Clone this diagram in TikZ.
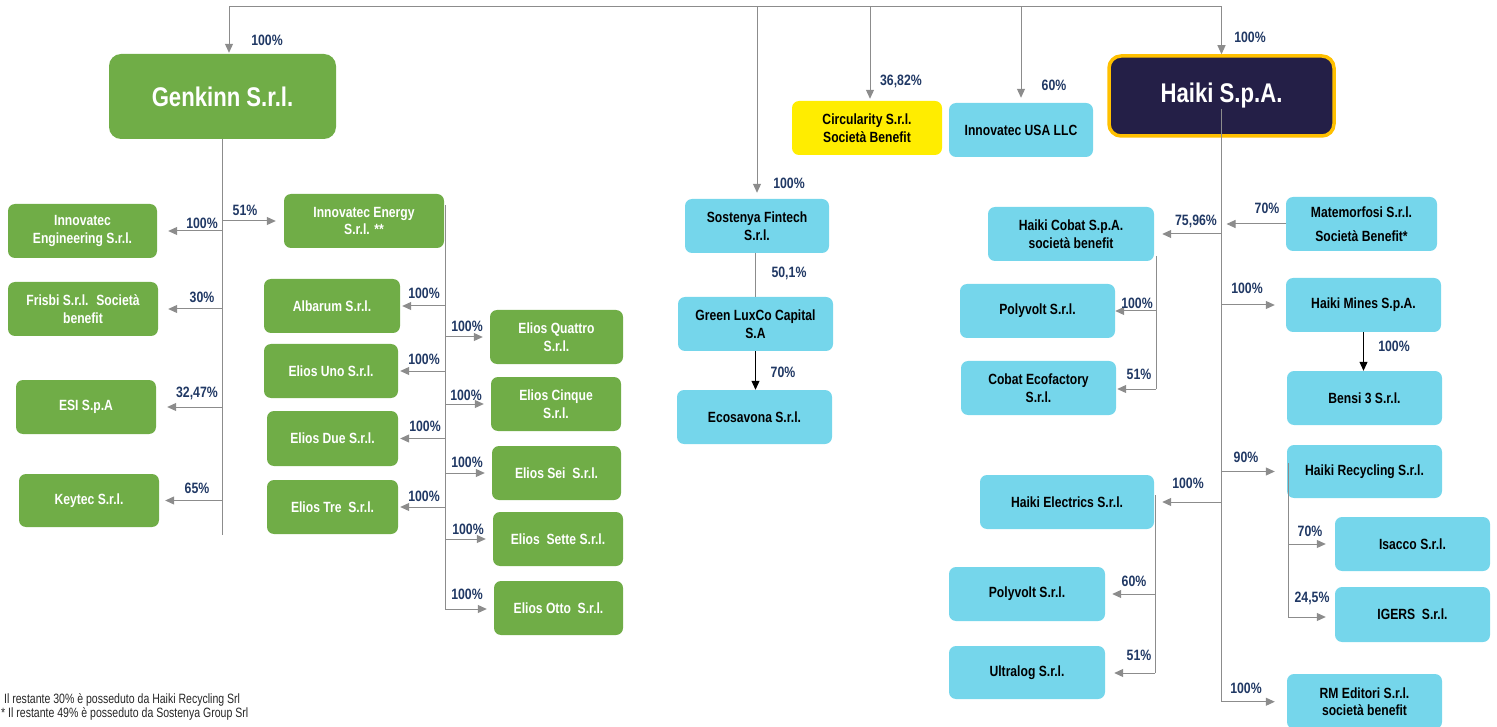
\documentclass[tikz,border=0pt]{standalone}
\usepackage{fontspec}
\setmainfont{Liberation Sans}[FakeStretch=0.82]
\newfontfamily\notefont{Liberation Sans}[FakeStretch=0.78]
\usetikzlibrary{arrows.meta}
\definecolor{gr}{HTML}{70AD47}
\definecolor{lb}{HTML}{75D6EB}
\definecolor{ye}{HTML}{FFED00}
\definecolor{hk}{HTML}{241F47}
\definecolor{gold}{HTML}{FFC000}
\definecolor{navy}{HTML}{203864}
\definecolor{cg}{HTML}{8C8C8C}
\newcommand\orgbox[7]{\node[#6, minimum width={(#4-#2)*1pt}, minimum height={(#5-#3)*1pt}] (#1) at ({(#2+#4)/2},{(#3+#5)/2}) {#7};}
\begin{document}
\begin{tikzpicture}[x=1pt,y=-1pt,
  bx/.style={rounded corners=7pt, inner sep=0pt, align=center, font=\fontsize{14.8}{17.5}\selectfont\bfseries},
  gbx/.style={bx, fill=gr, text=white},
  bbx/.style={bx, fill=lb, text=black},
  ybx/.style={bx, fill=ye, text=black},
  bigg/.style={gbx, rounded corners=12pt, font=\fontsize{27}{30}\selectfont\bfseries},
  bigh/.style={bx, fill=hk, draw=gold, line width=3.5pt, text=white, rounded corners=12pt, font=\fontsize{27}{30}\selectfont\bfseries},
  pct/.style={text=navy, inner sep=0pt, font=\fontsize{15}{17}\selectfont\bfseries},
  cline/.style={draw=cg, line width=1pt},
  carr/.style={cline, -{Triangle[length=9pt,width=8pt]}},
  barr/.style={draw=black, line width=1pt, -{Triangle[length=9pt,width=8pt]}},
  note/.style={anchor=west, inner sep=0pt, text=black!85, font=\notefont\fontsize{13.5}{15}\selectfont}
]
\useasboundingbox (0,0) rectangle (1497,727);

% ---------- boxes ----------
\orgbox{genkinn}{109}{54}{336}{139}{bigg}{Genkinn S.r.l.}
\orgbox{ieng}{8}{204}{157}{258}{gbx}{Innovatec\\Engineering S.r.l.}
\orgbox{frisbi}{8}{282}{158}{336}{gbx}{Frisbi S.r.l.~ Società\\benefit}
\orgbox{esi}{16}{380}{156}{434}{gbx}{ESI S.p.A}
\orgbox{keytec}{19}{474}{159}{527}{gbx}{Keytec S.r.l.}
\orgbox{ienergy}{284}{194}{444}{248}{gbx}{Innovatec Energy\\S.r.l. **}
\orgbox{albarum}{264}{279}{400}{333}{gbx}{Albarum S.r.l.}
\orgbox{euno}{264}{344}{398}{398}{gbx}{Elios Uno S.r.l.}
\orgbox{edue}{267}{411}{398}{466}{gbx}{Elios Due S.r.l.}
\orgbox{etre}{267}{480}{398}{534}{gbx}{Elios Tre~ S.r.l.}
\orgbox{equattro}{490}{310}{623}{364}{gbx}{Elios Quattro\\S.r.l.}
\orgbox{ecinque}{491}{377}{621}{431}{gbx}{Elios Cinque\\S.r.l.}
\orgbox{esei}{492}{446}{621}{500}{gbx}{Elios Sei~ S.r.l.}
\orgbox{esette}{493}{512}{623}{566}{gbx}{Elios~ Sette S.r.l.}
\orgbox{eotto}{494}{581}{623}{635}{gbx}{Elios Otto~ S.r.l.}

\orgbox{sostenya}{685}{199}{829}{253}{bbx}{Sostenya Fintech\\S.r.l.}
\orgbox{luxco}{678}{297}{833}{351}{bbx}{Green LuxCo Capital\\S.A}
\orgbox{ecosavona}{677}{390}{832}{444}{bbx}{Ecosavona S.r.l.}
\orgbox{circ}{792}{101}{942}{155}{ybx}{Circularity S.r.l.\\Società Benefit}
\orgbox{iusa}{949}{103}{1093}{157}{bbx}{Innovatec USA LLC}

\orgbox{haiki}{1109}{56}{1334}{136}{bigh}{Haiki S.p.A.}
\orgbox{hcobat}{988}{207}{1154}{261}{bbx}{Haiki Cobat S.p.A.\\società benefit}
\orgbox{mate}{1286}{197}{1437}{251}{bbx}{Matemorfosi S.r.l.\\[6pt]Società Benefit*}
\orgbox{poly1}{960}{284}{1115}{338}{bbx}{Polyvolt S.r.l.}
\orgbox{cobateco}{961}{361}{1116}{415}{bbx}{Cobat Ecofactory\\S.r.l.}
\orgbox{hmines}{1286}{278}{1441}{332}{bbx}{Haiki Mines S.p.A.}
\orgbox{bensi}{1287}{371}{1442}{425}{bbx}{Bensi 3 S.r.l.}
\orgbox{hrecyc}{1287}{445}{1442}{498}{bbx}{Haiki Recycling S.r.l.}
\orgbox{isacco}{1335}{517}{1490}{571}{bbx}{Isacco S.r.l.}
\orgbox{igers}{1335}{587}{1490}{642}{bbx}{IGERS~ S.r.l.}
\orgbox{helec}{980}{475}{1154}{529}{bbx}{Haiki Electrics S.r.l.}
\orgbox{poly2}{949}{567}{1105}{621}{bbx}{Polyvolt S.r.l.}
\orgbox{ultralog}{949}{646}{1105}{699}{bbx}{Ultralog S.r.l.}
\orgbox{rmedit}{1287}{674}{1442}{729}{bbx}{RM Editori S.r.l.\\società benefit}

% ---------- coordinates ----------
\coordinate (tl) at (229,7);
\coordinate (tc) at (870,7);
\coordinate (tr) at (haiki.north |- tl);
\path (genkinn.south) ++(0,396) coordinate (gb);
\coordinate (et1) at (445,205);
\coordinate (et2) at (445,609);
\path (haiki.south) ++(0,-29) coordinate (ht1);
\path (haiki.south) ++(0,564) coordinate (ht2);
\coordinate (ct1) at (1156,256);
\coordinate (ct2) at (1156,389);
\coordinate (el1) at (1155,495);
\coordinate (el2) at (1155,673);
\coordinate (rt1) at (1288,463);
\coordinate (rt2) at (1288,617);

% ---------- connectors ----------
\draw[cline] (tl) -- (tr);
\draw[carr, shorten >=1pt] (tl) -- (tl |- genkinn.north);
\draw[carr, shorten >=6pt] (sostenya.north |- tl) -- (sostenya.north);
\draw[carr, shorten >=2pt] (tc) -- (tc |- circ.north);
\draw[carr, shorten >=5pt] (iusa.north |- tl) -- (iusa.north);
\draw[carr] (tr) -- (haiki.north);

\draw[cline] (genkinn.south) -- (gb);
\draw[carr, shorten >=11pt] (genkinn.south |- ieng.east) -- (ieng.east);
\draw[carr, shorten >=10pt] (genkinn.south |- frisbi.east) -- (frisbi.east);
\draw[carr, shorten >=11pt] (genkinn.south |- esi.east) -- (esi.east);
\draw[carr, shorten >=6pt] (genkinn.south |- keytec.east) -- (keytec.east);
\draw[carr, shorten >=8pt] (genkinn.south |- ienergy.west) -- (ienergy.west);

\draw[cline] (et1) -- (et2);
\draw[carr, shorten >=2pt] (et1 |- albarum.east) -- (albarum.east);
\draw[carr, shorten >=2pt] (et1 |- euno.east) -- (euno.east);
\draw[carr, shorten >=2pt] (et1 |- edue.east) -- (edue.east);
\draw[carr, shorten >=2pt] (et1 |- etre.east) -- (etre.east);
\draw[carr, shorten >=7pt] (et1 |- equattro.west) -- (equattro.west);
\draw[carr, shorten >=7pt] (et1 |- ecinque.west) -- (ecinque.west);
\draw[carr, shorten >=7pt] (et1 |- esei.west) -- (esei.west);
\draw[carr, shorten >=7pt] (et1 |- esette.west) -- (esette.west);
\draw[carr, shorten >=7pt] (et2) -- (et2 -| eotto.west);

\draw[cline] (luxco.north |- sostenya.south) -- (luxco.north);
\draw[barr] (luxco.south) -- (luxco.south |- ecosavona.north);

\draw[cline] (ht1) -- (ht2);
\draw[carr, shorten >=8pt] (ht1 |- hcobat.east) -- (hcobat.east);
\draw[carr, shorten >=5pt] (mate.west) -- (mate.west -| ht1);
\draw[carr, shorten >=11pt] (ht1 |- hmines.west) -- (hmines.west);
\draw[carr, shorten >=12pt] (ht1 |- hrecyc.west) -- (hrecyc.west);
\draw[carr, shorten >=8pt] (ht1 |- helec.east) -- (helec.east);
\draw[carr, shorten >=12pt] (ht2) -- (ht2 -| rmedit.west);
\draw[barr] (hmines.south) -- (hmines.south |- bensi.north);

\draw[cline] (ct1) -- (ct2);
\draw[carr] (ct1 |- poly1.east) -- (poly1.east);
\draw[carr, shorten >=1pt] (ct2) -- (ct2 -| cobateco.east);

\draw[cline] (el1) -- (el2);
\draw[carr, shorten >=7pt] (el1 |- poly2.east) -- (poly2.east);
\draw[carr, shorten >=9pt] (el2) -- (el2 -| ultralog.east);

\draw[cline] (rt1) -- (rt2);
\draw[carr, shorten >=9pt] (rt1 |- isacco.west) -- (isacco.west);
\draw[carr, shorten >=9pt] (rt2) -- (rt2 -| igers.west);

% ---------- labels ----------
\node[pct] (p1) at (267,40) {100\%};
\node[pct] (p2) at (789,183) {100\%};
\node[pct] (p3) at (901,81) {36,82\%};
\node[pct] (p4) at (1054,85) {60\%};
\node[pct] (p5) at (1250,37) {100\%};
\node[pct] (p6) at (202,223) {100\%};
\node[pct] (p7) at (245,210) {51\%};
\node[pct] (p8) at (202,297) {30\%};
\node[pct] (p9) at (197,393) {32,47\%};
\node[pct] (p10) at (197,488) {65\%};
\node[pct] (p11) at (424,293) {100\%};
\node[pct] (p12) at (424,359) {100\%};
\node[pct] (p13) at (425,426) {100\%};
\node[pct] (p14) at (424,496) {100\%};
\node[pct] (p15) at (467,326) {100\%};
\node[pct] (p16) at (466,395) {100\%};
\node[pct] (p17) at (467,462) {100\%};
\node[pct] (p18) at (468,529) {100\%};
\node[pct] (p19) at (467,594) {100\%};
\node[pct] (p20) at (789,273) {50,1\%};
\node[pct] (p21) at (783,372) {70\%};
\node[pct] (p22) at (1196,221) {75,96\%};
\node[pct] (p23) at (1267,208) {70\%};
\node[pct] (p24) at (1137,303) {100\%};
\node[pct] (p25) at (1139,374) {51\%};
\node[pct] (p26) at (1247,288) {100\%};
\node[pct] (p27) at (1394,346) {100\%};
\node[pct] (p28) at (1246,457) {90\%};
\node[pct] (p29) at (1310,531) {70\%};
\node[pct] (p30) at (1312,598) {24,5\%};
\node[pct] (p31) at (1188,483) {100\%};
\node[pct] (p32) at (1134,581) {60\%};
\node[pct] (p33) at (1139,655) {51\%};
\node[pct] (p34) at (1246,688) {100\%};

% ---------- footnotes ----------
\node[note] (n1) at (4,700) {Il restante 30\% è posseduto da Haiki Recycling Srl};
\node[note] (n2) at (1,714) {* Il restante 49\% è posseduto da Sostenya Group Srl};
\end{tikzpicture}
\end{document}
